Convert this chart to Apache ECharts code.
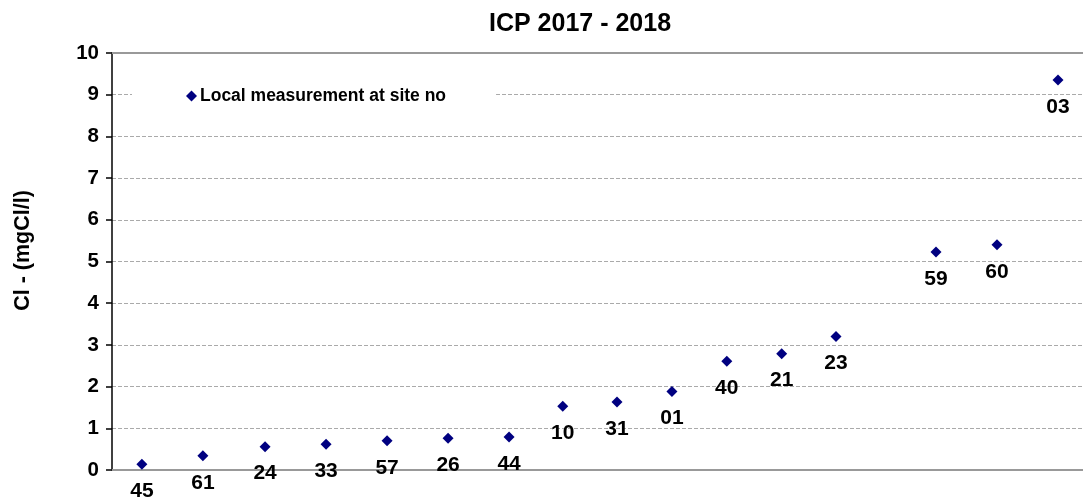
<!DOCTYPE html>
<html>
<head>
<meta charset="utf-8">
<script src="https://cdn.jsdelivr.net/npm/echarts@6/dist/echarts.min.js"></script>
<style>html,body{margin:0;padding:0;background:#fff}#c{width:1083px;height:500px}</style>
</head>
<body>
<div id="c"></div>
<script>
// Site numbers (point labels)
var sites = ['45','61','24','33','57','26','44','10','31','01','40','21','23','59','60','03'];
// Horizontal positions of the points
var xPos = [0.49,1.49,2.51,3.51,4.51,5.51,6.51,7.39,8.28,9.18,10.08,10.98,11.87,13.51,14.51,15.51];
// Cl- concentration (mgCl/l)
var clValues = [0.14,0.34,0.56,0.62,0.70,0.76,0.79,1.53,1.63,1.88,2.61,2.79,3.20,5.23,5.40,9.35];
var yTicks = [0,1,2,3,4,5,6,7,8,9,10];

var font = "'Liberation Sans', Arial, sans-serif";
var data = xPos.map(function(x, i){ return {value:[x, clValues[i]], name:sites[i]}; });

var chart = echarts.init(document.getElementById('c'));
chart.setOption({
  animation:false,
  title:{text:'ICP 2017 - 2018', left:489, top:12, padding:0,
    textStyle:{fontFamily:font, fontWeight:'bold', fontSize:25, color:'#000'}},
  legend:{left:132, top:79, padding:[8,50,8,54], backgroundColor:'#fff',
    icon:'diamond', itemWidth:11, itemHeight:11, itemGap:0,
    itemStyle:{opacity:1},
    textStyle:{fontFamily:font, fontWeight:'bold', fontSize:17.5, color:'#000', padding:[0,0,0,-2]},
    data:['Local measurement at site no']},
  grid:{left:112, right:0, top:53, bottom:30, containLabel:false},
  xAxis:[{type:'value', min:0, max:15.92, position:'bottom',
      axisLine:{show:true, onZero:false, lineStyle:{color:'#999', width:2}},
      axisTick:{show:false}, axisLabel:{show:false}, splitLine:{show:false}},
    {type:'value', min:0, max:15.92, position:'top',
      axisLine:{show:true, onZero:false, lineStyle:{color:'#999', width:2}},
      axisTick:{show:false}, axisLabel:{show:false}, splitLine:{show:false}}],
  yAxis:{type:'value', min:yTicks[0], max:yTicks[yTicks.length-1], interval:1,
    name:'Cl - (mgCl/l)', nameLocation:'middle', nameGap:78,
    nameTextStyle:{fontFamily:font, fontWeight:'bold', fontSize:21.5, color:'#000', padding:[0,0,0,22]},
    axisLine:{show:true, lineStyle:{color:'#000', width:1.5}},
    axisTick:{show:true, length:6, lineStyle:{color:'#000', width:1.5}},
    axisLabel:{margin:13, fontFamily:font, fontWeight:'bold', fontSize:20.5, color:'#000'},
    splitLine:{show:true, showMinLine:false, showMaxLine:false, lineStyle:{color:'#aaa', type:[4,2], width:1}}},
  series:[{name:'Local measurement at site no', type:'scatter', xAxisIndex:0,
    symbol:'diamond', symbolSize:11, itemStyle:{color:'#000080', opacity:1},
    label:{show:true, position:'bottom', distance:11, formatter:function(p){return p.name;},
      fontFamily:font, fontWeight:'bold', fontSize:21, color:'#000', opacity:1},
    data:data}]
});
</script>
</body>
</html>
